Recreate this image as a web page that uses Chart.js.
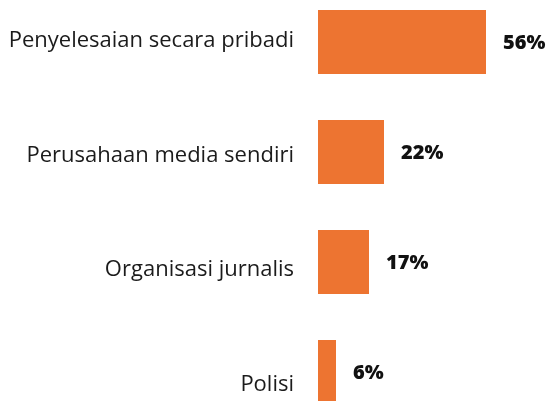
<!DOCTYPE html>
<html>
<head>
<meta charset="utf-8">
<script src="https://cdn.jsdelivr.net/npm/chart.js@4"></script>
<style>
  html, body { margin: 0; padding: 0; background: #ffffff; overflow: hidden; }
  body { width: 550px; height: 401px; position: relative; }
  #wrap { position: absolute; left: 0; top: -13px; width: 550px; height: 440px; }
</style>
</head>
<body>
<div id="wrap"><canvas id="chart"></canvas></div>
<script>
// Who journalists turned to (share of respondents, %)
const categories = [
  'Penyelesaian secara pribadi',
  'Perusahaan media sendiri',
  'Organisasi jurnalis',
  'Polisi'
];
const values = [56, 22, 17, 6];
const valueLabels = ['56%', '22%', '17%', '6%'];

const BAR_COLOR = '#ED7431';
const LABEL_FONT = '400 22px "Open Sans", Lato, sans-serif';
const VALUE_FONT = '800 20px "Open Sans", Lato, sans-serif';

// Category names on the left, right-aligned against the bars
const categoryLabels = {
  id: 'categoryLabels',
  afterDraw(chart) {
    const ctx = chart.ctx;
    const left = chart.chartArea.left;
    ctx.save();
    ctx.font = LABEL_FONT;
    ctx.fillStyle = '#1b1b1b';
    ctx.textAlign = 'right';
    ctx.textBaseline = 'alphabetic';
    const firstBaseline = 60;   // canvas px
    const step = 114.5;
    categories.forEach((name, i) => {
      ctx.fillText(name, left - 24, firstBaseline + step * i);
    });
    ctx.restore();
  }
};

// Bold value text just past the end of each bar
const valueTags = {
  id: 'valueTags',
  afterDatasetsDraw(chart) {
    const ctx = chart.ctx;
    const meta = chart.getDatasetMeta(0);
    ctx.save();
    ctx.font = VALUE_FONT;
    ctx.fillStyle = '#111111';
    ctx.textAlign = 'left';
    ctx.textBaseline = 'middle';
    meta.data.forEach((bar, i) => {
      ctx.fillText(valueLabels[i], bar.x + 17, bar.y + 1);
    });
    ctx.restore();
  }
};

new Chart(document.getElementById('chart'), {
  type: 'bar',
  data: {
    labels: categories,
    datasets: [{
      data: values,
      backgroundColor: BAR_COLOR,
      borderWidth: 0,
      barPercentage: 0.58,
      categoryPercentage: 1.0
    }]
  },
  options: {
    indexAxis: 'y',
    responsive: true,
    maintainAspectRatio: false,
    animation: false,
    layout: { padding: { left: 0, right: 22, top: 0, bottom: 0 } },
    plugins: {
      legend: { display: false },
      tooltip: { enabled: false }
    },
    scales: {
      x: {
        display: false,
        min: 0,
        max: 70
      },
      y: {
        offset: true,
        grid: { display: false },
        border: { display: false },
        ticks: { display: false },
        afterFit(scale) { scale.width = 318; }
      }
    }
  },
  plugins: [categoryLabels, valueTags]
});
</script>
</body>
</html>
